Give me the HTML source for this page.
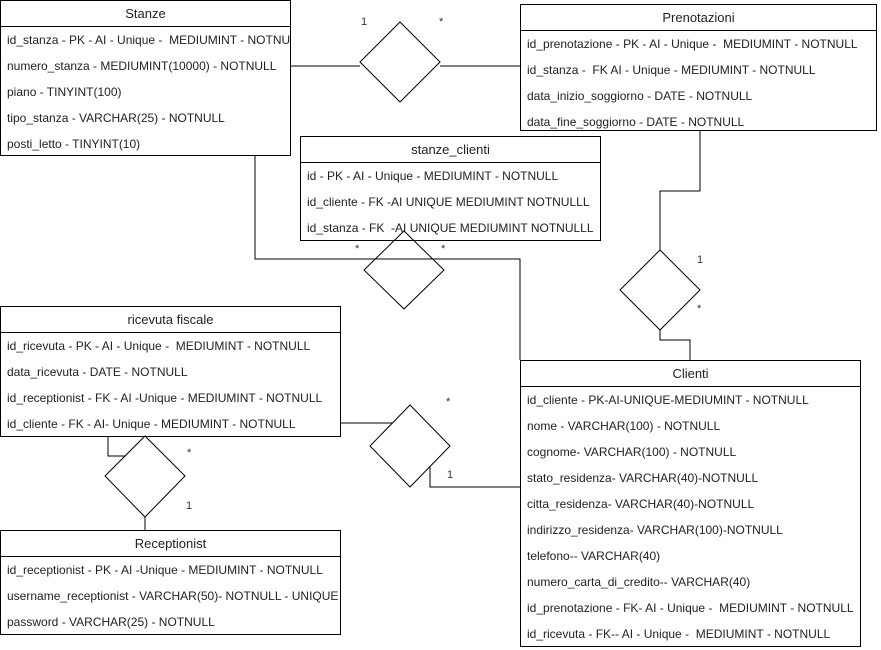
<!DOCTYPE html>
<html><head><meta charset="utf-8"><style>
body{margin:0;width:881px;height:650px;background:#fff;position:relative;overflow:hidden;font-family:"Liberation Sans",Arial,sans-serif;}
.t{position:absolute;border:1px solid #000;background:#fff;box-sizing:border-box;overflow:hidden;}
.h{height:25px;line-height:25px;text-align:center;font-size:13px;border-bottom:1px solid #000;color:#222;}
.r{height:26px;line-height:26px;font-size:12px;padding-left:6px;white-space:pre;color:#222;}
svg{position:absolute;left:0;top:0;}
.l{position:absolute;font-size:11px;color:#333;}
</style></head><body>
<svg width="881" height="650">
<g fill="none" stroke="#000" stroke-width="1">
<path d="M290 66H360M440 66H520"/>
<path d="M255 155V259H520V360"/>
<path d="M700 130V191H660V250M660 330V340H690V360"/>
<path d="M340 423H392M430 467V487H520"/>
<path d="M108 436V456H125M145 517V530"/>
</g></svg>
<div class="t" style="left:0;top:0;width:291px;height:156px"><div class="h">Stanze</div>
<div class="r">id_stanza - PK - AI - Unique -  MEDIUMINT - NOTNULL</div><div class="r">numero_stanza - MEDIUMINT(10000) - NOTNULL</div><div class="r">piano - TINYINT(100)</div><div class="r">tipo_stanza - VARCHAR(25) - NOTNULL</div><div class="r">posti_letto - TINYINT(10)</div></div>
<div class="t" style="top:4px;left:520px;width:357px;height:127px"><div class="h">Prenotazioni</div>
<div class="r">id_prenotazione - PK - AI - Unique -  MEDIUMINT - NOTNULL</div><div class="r">id_stanza -  FK AI - Unique - MEDIUMINT - NOTNULL</div><div class="r">data_inizio_soggiorno - DATE - NOTNULL</div><div class="r">data_fine_soggiorno - DATE - NOTNULL</div></div>
<div class="t" style="left:300px;top:136px;width:301px;height:105px"><div class="h">stanze_clienti</div>
<div class="r">id - PK - AI - Unique - MEDIUMINT - NOTNULL</div><div class="r">id_cliente - FK -AI UNIQUE MEDIUMINT NOTNULLL</div><div class="r">id_stanza - FK  -AI UNIQUE MEDIUMINT NOTNULLL</div></div>
<div class="t" style="left:0;top:306px;width:341px;height:131px"><div class="h">ricevuta fiscale</div>
<div class="r">id_ricevuta - PK - AI - Unique -  MEDIUMINT - NOTNULL</div><div class="r">data_ricevuta - DATE - NOTNULL</div><div class="r">id_receptionist - FK - AI -Unique - MEDIUMINT - NOTNULL</div><div class="r">id_cliente - FK - AI- Unique - MEDIUMINT - NOTNULL</div></div>
<div class="t" style="left:0;top:530px;width:341px;height:105px"><div class="h">Receptionist</div>
<div class="r">id_receptionist - PK - AI -Unique - MEDIUMINT - NOTNULL</div><div class="r">username_receptionist - VARCHAR(50)- NOTNULL - UNIQUE</div><div class="r">password - VARCHAR(25) - NOTNULL</div></div>
<div class="t" style="left:520px;top:360px;width:341px;height:287px"><div class="h">Clienti</div>
<div class="r">id_cliente - PK-AI-UNIQUE-MEDIUMINT - NOTNULL</div><div class="r">nome - VARCHAR(100) - NOTNULL</div><div class="r">cognome- VARCHAR(100) - NOTNULL</div><div class="r">stato_residenza- VARCHAR(40)-NOTNULL</div><div class="r">citta_residenza- VARCHAR(40)-NOTNULL</div><div class="r">indirizzo_residenza- VARCHAR(100)-NOTNULL</div><div class="r">telefono-- VARCHAR(40)</div><div class="r">numero_carta_di_credito-- VARCHAR(40)</div><div class="r">id_prenotazione - FK- AI - Unique -  MEDIUMINT - NOTNULL</div><div class="r">id_ricevuta - FK-- AI - Unique -  MEDIUMINT - NOTNULL</div></div>
<svg width="881" height="650">
<g fill="none" stroke="#000" stroke-width="1">
<path d="M400 22L440 62L400 102L360 62Z" fill="#fff"/>
<path d="M404 231L444 270L404 309L364 270Z"/>
<path d="M660 250L700 290L660 330L620 290Z" fill="#fff"/>
<path d="M410 405L450 446L410 487L370 446Z"/>
<path d="M145 436L185 476L145 517L105 476Z"/>
</g></svg>
<div class="l" style="left:361px;top:16px">1</div>
<div class="l" style="left:439px;top:16px">*</div>
<div class="l" style="left:355px;top:243px">*</div>
<div class="l" style="left:441px;top:243px">*</div>
<div class="l" style="left:697px;top:254px">1</div>
<div class="l" style="left:697px;top:303px">*</div>
<div class="l" style="left:446px;top:396px">*</div>
<div class="l" style="left:447px;top:469px">1</div>
<div class="l" style="left:187px;top:447px">*</div>
<div class="l" style="left:186px;top:500px">1</div>
</body></html>
